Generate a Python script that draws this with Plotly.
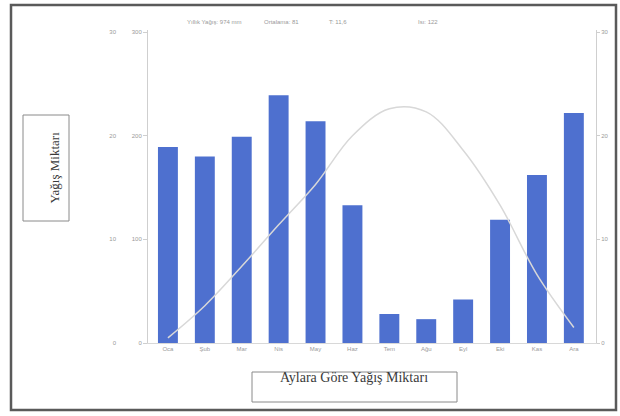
import plotly.graph_objects as go

# ---- data ----
months = ["Oca", "Şub", "Mar", "Nis", "May", "Haz", "Tem", "Ağu", "Eyl", "Eki", "Kas", "Ara"]
precip = [189, 180, 199, 239, 214, 133, 28, 23, 42, 119, 162, 222]
temp = [0.5, 3.6, 7.4, 11.4, 15.3, 20.0, 22.6, 22.3, 18.6, 13.3, 6.6, 1.5]
left_ticks = [0, 100, 200, 300]
inner_ticks = [0, 10, 20, 30]
right_ticks = [0, 10, 20, 30]
header_texts = ["Yıllık Yağış: 974 mm", "Ortalama: 81", "T: 11,6", "Isı: 122"]
x_title = "Aylara Göre Yağış Miktarı"
y_title = "Yağış Miktarı"

W, H = 620, 416
ML, MR, MT, MB = 100, 24, 30, 73
PW, PH = W - ML - MR, H - MT - MB


def px(x):
    return (x - ML) / PW


def py(y):
    return (H - MB - y) / PH


tick_font = dict(family="Liberation Sans", size=6, color="#9a9a9a")

fig = go.Figure()
fig.add_trace(go.Bar(x=months, y=precip, marker=dict(color="#4e70cf", line=dict(width=0)),
                     width=0.54, yaxis="y", showlegend=False))
fig.add_trace(go.Scatter(x=months, y=temp, mode="lines", line=dict(color="#d8d8d8", width=1.5, shape="spline"),
                         yaxis="y2", showlegend=False))
# invisible trace to carry the inner left axis
fig.add_trace(go.Scatter(x=months, y=temp, mode="lines", line=dict(width=0), opacity=0,
                         yaxis="y3", showlegend=False, hoverinfo="skip"))

fig.update_layout(
    width=W, height=H,
    margin=dict(l=ML, r=MR, t=MT, b=MB, autoexpand=False),
    paper_bgcolor="white", plot_bgcolor="white",
    xaxis=dict(domain=[px(148), 1], range=[-0.54, 11.6], showgrid=False, showline=True,
               linecolor="#d8d8d8", linewidth=1, ticks="", tickfont=tick_font, zeroline=False),
    yaxis=dict(range=[0, 302], tickvals=left_ticks, showgrid=False, zeroline=False,
               showline=True, linecolor="#cfcfcf", linewidth=1, ticks="outside", ticklen=4,
               tickcolor="#cfcfcf", tickfont=tick_font),
    yaxis2=dict(range=[0, 30.2], tickvals=right_ticks, overlaying="y", side="right",
                showgrid=False, zeroline=False, showline=True, linecolor="#cfcfcf", linewidth=1,
                ticks="outside", ticklen=3, tickcolor="#cfcfcf", tickfont=tick_font),
    yaxis3=dict(range=[0, 30.2], tickvals=inner_ticks, overlaying="y", anchor="free",
                position=px(116), showgrid=False, zeroline=False, showline=False,
                ticks="", tickfont=tick_font),
    bargap=0.4,
)

shapes = [
    dict(type="rect", xref="paper", yref="paper", x0=px(11), x1=px(616), y0=py(410), y1=py(5),
         line=dict(color="#5a5a5a", width=2.5), layer="above"),
    dict(type="rect", xref="paper", yref="paper", x0=px(23), x1=px(69), y0=py(221), y1=py(115),
         line=dict(color="#8a8a8a", width=1)),
    dict(type="rect", xref="paper", yref="paper", x0=px(252), x1=px(457), y0=py(402), y1=py(372),
         line=dict(color="#8a8a8a", width=1)),
]
fig.update_layout(shapes=shapes)

ann = [
    dict(text=y_title, x=px(45), y=py(168), xref="paper", yref="paper", showarrow=False,
         textangle=-90, font=dict(family="Liberation Serif", size=13, color="#3a3a3a")),
    dict(text=x_title, x=px(354), y=py(387), xref="paper", yref="paper", showarrow=False,
         font=dict(family="Liberation Serif", size=14, color="#3a3a3a")),
]
for t, xpos in zip(header_texts, [185, 262, 338, 428]):
    ann.append(dict(text=t, x=px(xpos), y=py(17), xref="paper", yref="paper", showarrow=False,
                    font=dict(family="Liberation Sans", size=6, color="#9a9a9a")))
fig.update_layout(annotations=ann)

fig.write_html("out.html", config={"displayModeBar": False},
               post_script="document.body.style.margin='0';")
